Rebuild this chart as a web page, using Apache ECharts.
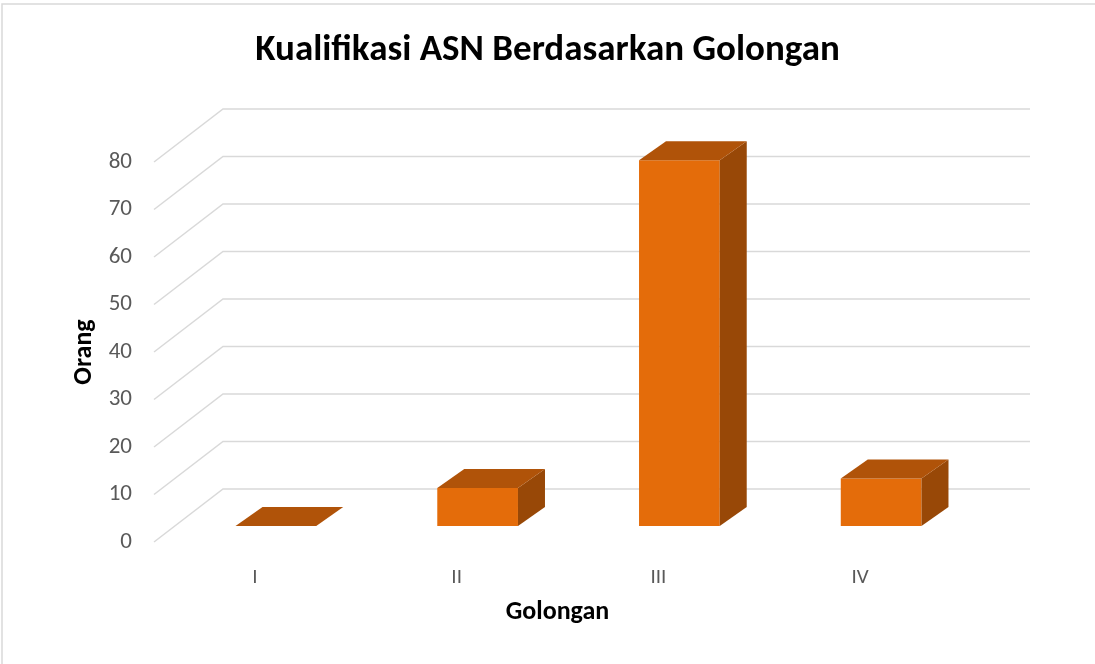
<!DOCTYPE html>
<html>
<head>
<meta charset="utf-8">
<script src="https://cdn.jsdelivr.net/npm/echarts@6/dist/echarts.min.js"></script>
<style>
	html,body{margin:0;padding:0;background:#fff;}
	#chart{width:1095px;height:664px;}
</style>
</head>
<body>
<div id="chart"></div>
<script>
	// data
	var categories = ["I", "II", "III", "IV"];
	var values = [0, 8, 77, 10];
	var yTicks = [0, 10, 20, 30, 40, 50, 60, 70, 80];

	var _font = "Carlito, 'Open Sans', 'Liberation Sans', sans-serif";
	var _gridColor = "#D9D9D9";

	// 3D look: back wall offset and bar depth (pixels)
	var _back = [69, -53];
	var _barFront = [21, -16];
	var _barBack = [48, -35];

	function renderWall(params, api){
		var v = api.value(0);
		var half = api.size([1, 0])[0] / 2;
		var l = api.coord([0, v]);
		var r = api.coord([categories.length - 1, v]);
		var xl = l[0] - half, xr = r[0] + half, y = l[1];
		return {
			type: "polyline",
			shape: {points: [[xl, y], [xl + _back[0], y + _back[1]], [xr + _back[0], y + _back[1]]]},
			style: {stroke: _gridColor, lineWidth: 1.5, fill: null},
			silent: true
		};
	}

	function renderBar(params, api){
		var idx = api.value(0);
		var top = api.coord([idx, api.value(1)]);
		var base = api.coord([idx, 0]);
		var bw = api.size([1, 0])[0] * 0.4;
		var x0 = top[0] - bw / 2 + _barFront[0], x1 = top[0] + bw / 2 + _barFront[0];
		var yt = top[1] + _barFront[1], yb = base[1] + _barFront[1];
		var dx = _barBack[0] - _barFront[0], dy = _barBack[1] - _barFront[1];
		return {
			type: "group",
			children: [
				{type: "polygon", shape: {points: [[x0, yt], [x1, yt], [x1, yb], [x0, yb]]},
					style: {fill: "#E46C0A"}},
				{type: "polygon", shape: {points: [[x1, yt], [x1 + dx, yt + dy], [x1 + dx, yb + dy], [x1, yb]]},
					style: {fill: "#984807"}},
				{type: "polygon", shape: {points: [[x0, yt], [x0 + dx, yt + dy], [x1 + dx, yt + dy], [x1, yt]]},
					style: {fill: "#B05309"}}
			]
		};
	}

	var chart = echarts.init(document.getElementById("chart"));
	chart.setOption({
		backgroundColor: "#fff",
		animation: false,
		title: {
			text: "Kualifikasi ASN Berdasarkan Golongan",
			left: "center",
			top: 27,
			textStyle: {fontFamily: _font, fontSize: 37, fontWeight: "bold", color: "#000"}
		},
		graphic: [{
			type: "rect",
			shape: {x: 2, y: 4, width: 1200, height: 800},
			style: {fill: null, stroke: _gridColor, lineWidth: 1.5},
			silent: true, z: -10
		}],
		grid: {left: 154, right: 134, top: 162, bottom: 122},
		xAxis: {
			type: "category",
			data: categories,
			axisLine: {show: false},
			axisTick: {show: false},
			axisLabel: {margin: 25, fontFamily: _font, fontSize: 21, color: "#595959"},
			name: "Golongan",
			nameLocation: "middle",
			nameGap: 57,
			nameTextStyle: {fontFamily: _font, fontSize: 26, fontWeight: "bold", color: "#000"}
		},
		yAxis: {
			type: "value",
			min: 0, max: 80, interval: 10,
			axisLine: {show: false},
			axisTick: {show: false},
			splitLine: {show: false},
			axisLabel: {margin: 22, fontFamily: _font, fontSize: 23, color: "#595959"},
			name: "Orang",
			nameLocation: "middle",
			nameGap: 57,
			nameTextStyle: {fontFamily: _font, fontSize: 26, fontWeight: "bold", color: "#000"}
		},
		series: [{
			type: "custom",
			renderItem: renderWall,
			data: yTicks.map(function(t){ return [t]; }),
			encode: {y: 0},
			z: 1,
			silent: true
		}, {
			type: "custom",
			renderItem: renderBar,
			data: values.map(function(v, i){ return [i, v]; }),
			encode: {x: 0, y: 1},
			z: 2
		}]
	});
</script>
</body>
</html>
